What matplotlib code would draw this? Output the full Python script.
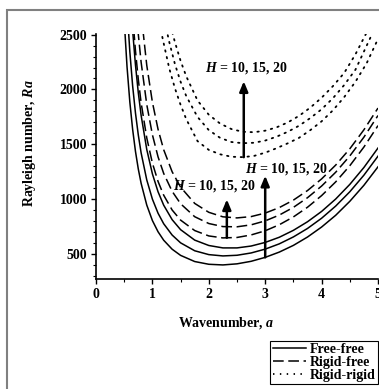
import matplotlib
matplotlib.use("Agg")
import matplotlib.pyplot as plt
import matplotlib.ticker as mticker
from matplotlib.lines import Line2D
from matplotlib.patches import Rectangle

plt.rcParams["font.family"] = "Liberation Serif"
plt.rcParams["font.weight"] = "bold"
plt.rcParams["mathtext.fontset"] = "custom"
plt.rcParams["mathtext.rm"] = "Liberation Serif:bold"
plt.rcParams["mathtext.it"] = "Liberation Serif:italic:bold"

# wavenumber grid for free-free / rigid-free curves
a_grid = [0.5, 0.55, 0.6, 0.65, 0.7, 0.75, 0.8, 0.9, 1.0, 1.1, 1.2, 1.35,
          1.5, 1.75, 2.0, 2.25, 2.5, 2.75, 3.0, 3.25, 3.5, 3.75, 4.0, 4.25,
          4.5, 4.75, 5.0]

# free-free, H = 10, 15, 20
ff_h10 = [2632, 2208, 1885, 1635, 1436, 1276, 1146, 948, 807, 705, 628, 546,
          490, 434, 409, 403, 413, 436, 472, 520, 581, 657, 748, 855, 982,
          1128, 1296]
ff_h15 = [3270, 2743, 2343, 2031, 1785, 1586, 1423, 1177, 1002, 874, 778, 675,
          604, 532, 497, 485, 491, 512, 547, 595, 658, 735, 828, 939, 1069,
          1220, 1393]
ff_h20 = [4098, 3433, 2927, 2534, 2222, 1971, 1765, 1454, 1232, 1069, 947, 815,
          724, 629, 580, 558, 558, 575, 608, 655, 718, 796, 890, 1003, 1136,
          1290, 1467]

# rigid-free, H = 10, 15, 20
rf_h10 = [4284, 3598, 3076, 2671, 2350, 2091, 1879, 1559, 1330, 1163, 1038, 903,
          811, 716, 667, 649, 653, 676, 714, 769, 840, 928, 1034, 1159, 1306,
          1476, 1671]
rf_h15 = [5136, 4312, 3686, 3199, 2813, 2503, 2248, 1863, 1588, 1387, 1236, 1073,
          960, 842, 780, 752, 750, 768, 804, 857, 927, 1015, 1121, 1247, 1395,
          1566, 1763]
rf_h20 = [6220, 5214, 4449, 3854, 3383, 3003, 2692, 2220, 1884, 1638, 1452, 1251,
          1111, 963, 882, 841, 831, 843, 875, 925, 993, 1080, 1186, 1312, 1460,
          1633, 1831]

# wavenumber grid for rigid-rigid curves
a_rr = [1.15, 1.2, 1.3, 1.4, 1.5, 1.6, 1.8, 2.0, 2.2, 2.4, 2.6, 2.8, 3.0, 3.2,
        3.4, 3.6, 3.8, 4.0, 4.2, 4.4, 4.6, 4.8, 5.0]
rr_h10 = [2540, 2420, 2190, 2010, 1860, 1730, 1530, 1450, 1410, 1388, 1384, 1395,
          1425, 1465, 1510, 1560, 1630, 1710, 1810, 1930, 2070, 2240, 2460]
rr_h15 = [2800, 2660, 2430, 2230, 2070, 1940, 1750, 1630, 1560, 1522, 1511, 1515,
          1535, 1570, 1615, 1670, 1740, 1820, 1920, 2040, 2180, 2400, 2620]
rr_h20 = [3050, 2880, 2620, 2430, 2260, 2120, 1900, 1770, 1690, 1640, 1615, 1611,
          1625, 1655, 1700, 1760, 1835, 1925, 2030, 2150, 2320, 2520, 2760]

# arrows: (a, Ra start, Ra end), labels: (a, Ra)
arrows = [(2.32, 650, 1000), (3.0, 472, 1215), (2.62, 1384, 2075)]
labels = [(2.10, 1120), (3.37, 1275), (2.66, 2192)]
label_text = "$H$ = 10, 15, 20"

fig = plt.figure(figsize=(3.79, 3.89), dpi=100)
ax = fig.add_axes([96 / 379, 1 - 279 / 389, 282 / 379, 245 / 389])

lw = 1.1
for ys in (ff_h10, ff_h15, ff_h20):
    ax.plot(a_grid, ys, color="black", lw=lw, linestyle="-")
for ys in (rf_h10, rf_h15, rf_h20):
    ax.plot(a_grid, ys, color="black", lw=lw, linestyle=(0, (7, 3)))
for ys in (rr_h10, rr_h15, rr_h20):
    ax.plot(a_rr, ys, color="black", lw=1.3, linestyle=(0, (0.8, 3.0)),
            dash_capstyle="round")

for (x, y0, y1), (lx, ly) in zip(arrows, labels):
    ax.annotate("", xy=(x, y1), xytext=(x, y0),
                arrowprops=dict(arrowstyle="-|>,head_width=0.25,head_length=0.6",
                                color="black", lw=1.8, shrinkA=0, shrinkB=0))
    ax.text(lx, ly, label_text, fontsize=10, ha="center", va="center")

ax.set_xlim(0, 5)
ax.set_ylim(275, 2505)
ax.set_xticks([0, 1, 2, 3, 4, 5])
ax.set_yticks([500, 1000, 1500, 2000, 2500])
ax.xaxis.set_minor_locator(mticker.MultipleLocator(0.5))
ax.yaxis.set_minor_locator(mticker.MultipleLocator(100))
ax.tick_params(which="major", direction="out", length=3.5, width=1,
               labelsize=10, pad=3)
ax.tick_params(which="minor", direction="out", length=2, width=0.8)
for lab in ax.get_xticklabels() + ax.get_yticklabels():
    lab.set_fontweight("bold")
for s in ("top", "right"):
    ax.spines[s].set_visible(False)
for s in ("left", "bottom"):
    ax.spines[s].set_linewidth(1.2)

fig.text(30 / 379, 1 - 143 / 389, "Rayleigh number, $Ra$", rotation=90,
         fontsize=10, ha="center", va="center")
fig.text(226 / 379, 1 - 323 / 389, "Wavenumber, $a$", fontsize=10,
         ha="center", va="center")

handles = [
    Line2D([], [], color="black", lw=lw, linestyle="-"),
    Line2D([], [], color="black", lw=lw, linestyle=(0, (7, 3))),
    Line2D([], [], color="black", lw=1.3, linestyle=(0, (0.8, 3.0))),
]
leg = fig.legend(handles, ["Free-free", "Rigid-free", "Rigid-rigid"],
                 loc="lower right", bbox_to_anchor=(378 / 379, 5 / 389),
                 fontsize=10, frameon=True, fancybox=False,
                 edgecolor="black", framealpha=1, borderpad=0.15,
                 labelspacing=0.0, handlelength=2.4, handletextpad=0.3,
                 borderaxespad=0)
leg.get_frame().set_linewidth(0.8)

fig.patches.append(Rectangle((7 / 379, -0.05), 1.1, 1.05 - 10 / 389,
                             transform=fig.transFigure, fill=False,
                             edgecolor="#808080", lw=1.5))

fig.savefig("out.png", dpi=100)
